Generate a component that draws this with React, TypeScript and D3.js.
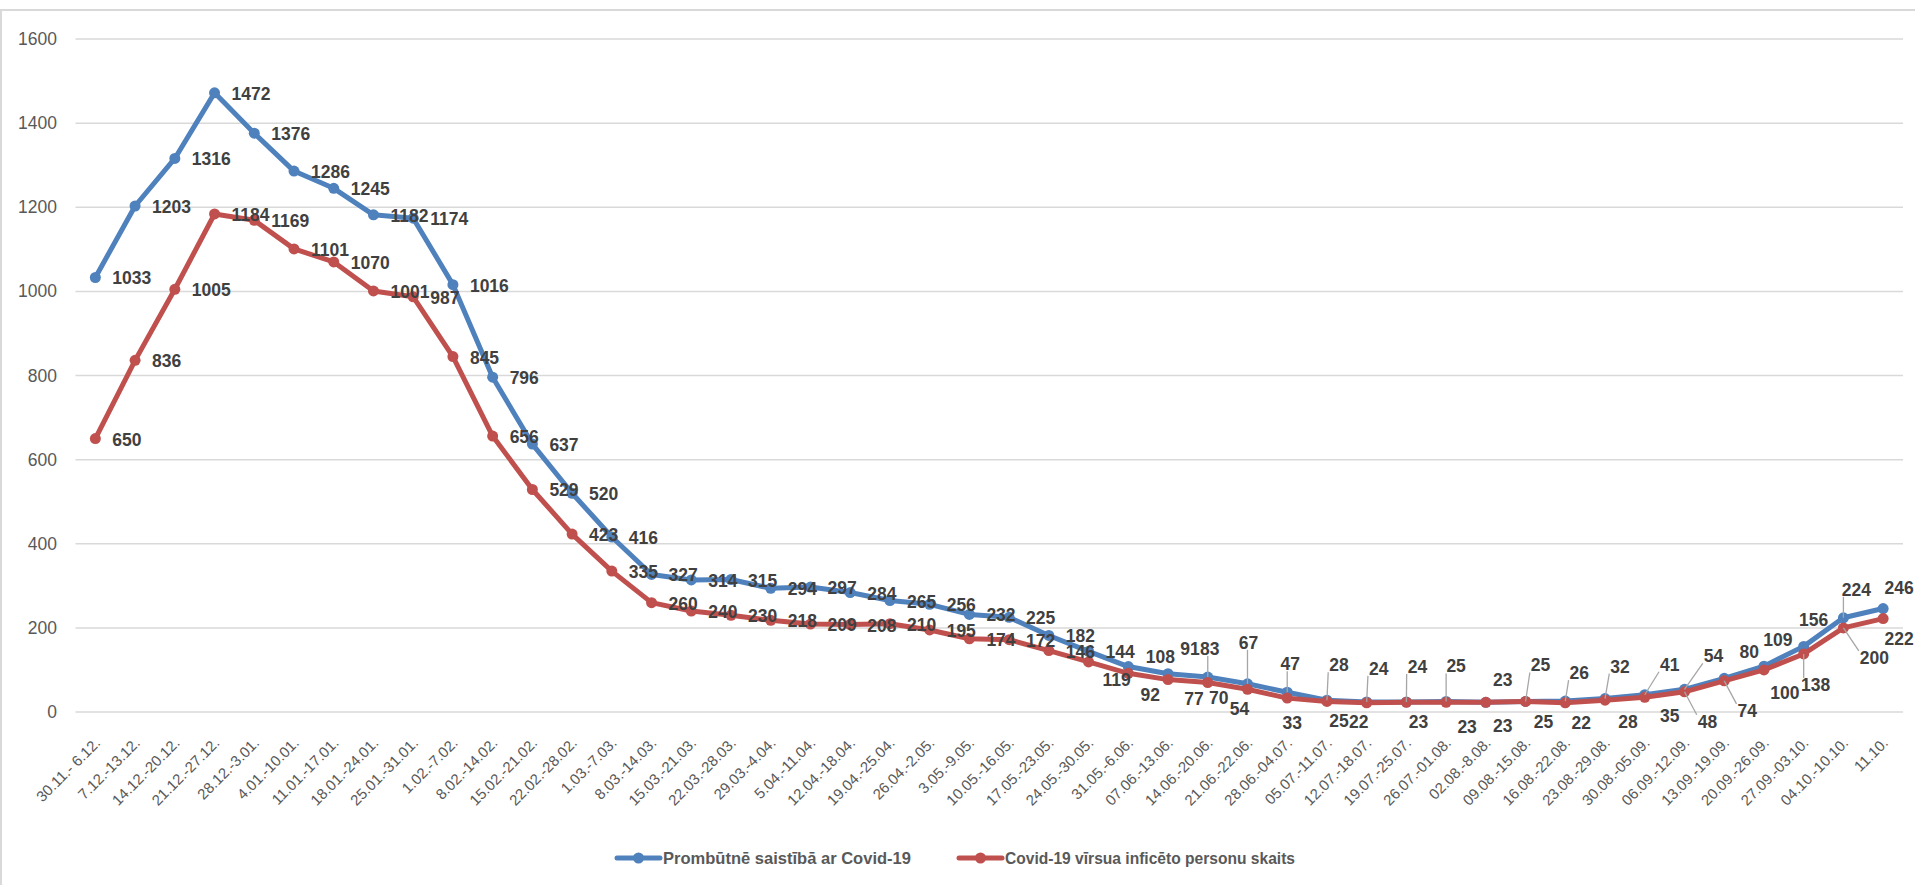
import React from 'react';
import * as d3 from 'd3';

const categories = [
  '30.11.- 6.12.', '7.12.-13.12.', '14.12.-20.12.', '21.12.-27.12.', '28.12.-3.01.',
  '4.01.-10.01.', '11.01.-17.01.', '18.01.-24.01.', '25.01.-31.01.', '1.02.-7.02.',
  '8.02.-14.02.', '15.02.-21.02.', '22.02.-28.02.', '1.03.-7.03.', '8.03.-14.03.',
  '15.03.-21.03.', '22.03.-28.03.', '29.03.-4.04.', '5.04.-11.04.', '12.04.-18.04.',
  '19.04.-25.04.', '26.04.-2.05.', '3.05.-9.05.', '10.05.-16.05.', '17.05.-23.05.',
  '24.05.-30.05.', '31.05.-6.06.', '07.06.-13.06.', '14.06.-20.06.', '21.06.-22.06.',
  '28.06.-04.07.', '05.07.-11.07.', '12.07.-18.07.', '19.07.-25.07.', '26.07.-01.08.',
  '02.08.-8.08.', '09.08.-15.08.', '16.08.-22.08.', '23.08.-29.08.', '30.08.-05.09.',
  '06.09.-12.09.', '13.09.-19.09.', '20.09.-26.09.', '27.09.-03.10.', '04.10.-10.10.',
  '11.10.',
];

const absence = [
  1033, 1203, 1316, 1472, 1376, 1286, 1245, 1182, 1174, 1016,
  796, 637, 520, 416, 327, 314, 315, 294, 297, 284,
  265, 256, 232, 225, 182, 144, 108, 91, 83, 67,
  47, 28, 24, 24, 25, 23, 25, 26, 32, 41,
  54, 80, 109, 156, 224, 246,
];

const infected = [
  650, 836, 1005, 1184, 1169, 1101, 1070, 1001, 987, 845,
  656, 529, 423, 335, 260, 240, 230, 218, 209, 208,
  210, 195, 174, 172, 146, 119, 92, 77, 70, 54,
  33, 25, 22, 23, 23, 23, 25, 22, 28, 35,
  48, 74, 100, 138, 200, 222,
];

const yTicks = [0, 200, 400, 600, 800, 1000, 1200, 1400, 1600];

const seriesNames = [
  'Prombūtnē saistībā ar Covid-19',
  'Covid-19 vīrsua inficēto personu skaits',
];

// ---- layout (label placement offsets, px, label centre relative to point) ----
const absenceLabelMoves: Record<number, [number, number]> = {
  26: [32, -10], 27: [22, -25], 28: [2, -28], 29: [1, -41], 30: [3, -28],
  31: [12, -35], 32: [12, -33], 33: [11, -35], 34: [10, -35], 35: [17, -22],
  36: [15, -36], 37: [14, -28], 38: [15, -32], 39: [25, -30], 40: [29, -33],
  41: [25, -26], 42: [14, -26], 43: [10, -26], 44: [13, -28], 45: [16, -21],
};
const infectedLabelMoves: Record<number, [number, number]> = {
  25: [28, 18], 26: [22, 22], 27: [26, 19], 28: [11, 15], 29: [-8, 20],
  30: [5, 25], 31: [12, 20], 32: [-8, 19], 33: [12, 20], 34: [21, 25],
  35: [17, 24], 36: [18, 21], 37: [16, 20], 38: [23, 22], 39: [25, 19],
  40: [23, 30], 41: [23, 30], 42: [21, 23], 43: [12, 31], 44: [31, 30],
  45: [16, 20],
};
const absenceLeaders = [28, 29, 30, 31, 32, 33, 34, 36, 37, 38, 39, 40, 44];
const infectedLeaders = [40, 41, 43, 44];

const W = 1915;
const H = 885;
const FONT = "'Liberation Sans', Arial, sans-serif";
const BLUE = '#4F81BD';
const RED = '#C0504D';
const LABEL_COLOR = '#404040';
const AXIS_COLOR = '#595959';
const GRID = '#d9d9d9';
const LABEL_SIZE = 17.5;

export default function App() {
  const x = d3.scalePoint<string>().domain(categories).range([75.5, 1903]).padding(0.5);
  const y = d3.scaleLinear().domain([0, 1600]).range([712, 39]);
  const line = d3
    .line<number>()
    .x((_, i) => x(categories[i]) as number)
    .y((d) => y(d));

  const series = [
    { name: seriesNames[0], values: absence, color: BLUE, moves: absenceLabelMoves, leaders: absenceLeaders },
    { name: seriesNames[1], values: infected, color: RED, moves: infectedLabelMoves, leaders: infectedLeaders },
  ];

  const labelEls: React.ReactNode[] = [];
  const leaderEls: React.ReactNode[] = [];
  series.forEach((s, si) => {
    s.values.forEach((v, i) => {
      const px = x(categories[i]) as number;
      const py = y(v);
      const text = String(v);
      const mv = s.moves[i];
      if (mv) {
        const cx = px + mv[0];
        const cy = py + mv[1];
        labelEls.push(
          <text key={`l${si}-${i}`} x={cx} y={cy} textAnchor="middle" dominantBaseline="central"
            fontFamily={FONT} fontWeight="bold" fontSize={LABEL_SIZE} fill={LABEL_COLOR}>{text}</text>
        );
        if (s.leaders.includes(i)) {
          const hw = (text.length * 0.556 * LABEL_SIZE) / 2 + 1;
          const hh = 7;
          const bx = Math.max(cx - hw, Math.min(px, cx + hw));
          const by = Math.max(cy - hh, Math.min(py, cy + hh));
          leaderEls.push(
            <line key={`ld${si}-${i}`} x1={px} y1={py} x2={bx} y2={by} stroke="#a6a6a6" strokeWidth={1.3} />
          );
        }
      } else {
        labelEls.push(
          <text key={`l${si}-${i}`} x={px + 17} y={py + 1} textAnchor="start" dominantBaseline="central"
            fontFamily={FONT} fontWeight="bold" fontSize={LABEL_SIZE} fill={LABEL_COLOR}>{text}</text>
        );
      }
    });
  });

  const legendY = 858;
  const legendItems = [
    { name: seriesNames[0], color: BLUE, x0: 617, len: 248 },
    { name: seriesNames[1], color: RED, x0: 959, len: 290 },
  ];

  return (
    <div style={{ position: 'absolute', left: 0, top: 0, width: W, height: H, background: '#fff' }}>
      <svg width={W} height={H} style={{ display: 'block' }}>
        <rect x={0} y={0} width={W} height={H} fill="#fff" />
        <rect x={1} y={10} width={W + 10} height={H + 10} fill="none" stroke={GRID} strokeWidth={2} />
        {yTicks.map((t) => (
          <g key={`g${t}`}>
            <line x1={75.5} x2={1903} y1={y(t)} y2={y(t)} stroke={GRID} strokeWidth={1.5} />
            <text x={57} y={y(t)} textAnchor="end" dominantBaseline="central" fontFamily={FONT}
              fontSize={17.5} fill={AXIS_COLOR}>{t}</text>
          </g>
        ))}
        {categories.map((c) => {
          const cx = (x(c) as number) + 2;
          const cy = 740;
          return (
            <text key={`x${c}`} x={cx} y={cy} transform={`rotate(-45 ${cx} ${cy})`} textAnchor="end"
              dominantBaseline="central" fontFamily={FONT} fontSize={15} fill={AXIS_COLOR}>{c}</text>
          );
        })}
        {series.map((s, si) => (
          <g key={`s${si}`}>
            <path d={line(s.values) as string} fill="none" stroke={s.color} strokeWidth={5}
              strokeLinejoin="round" strokeLinecap="round" />
            {s.values.map((v, i) => (
              <circle key={`m${si}-${i}`} cx={x(categories[i]) as number} cy={y(v)} r={5.5} fill={s.color} />
            ))}
          </g>
        ))}
        {leaderEls}
        {labelEls}
        {legendItems.map((it, k) => (
          <g key={`lg${k}`}>
            <line x1={it.x0} x2={it.x0 + 43} y1={legendY} y2={legendY} stroke={it.color} strokeWidth={5}
              strokeLinecap="round" />
            <circle cx={it.x0 + 21.5} cy={legendY} r={5.5} fill={it.color} />
            <text x={it.x0 + 46} y={legendY} dominantBaseline="central" fontFamily={FONT} fontWeight="bold"
              fontSize={16.7} fill={AXIS_COLOR} textLength={it.len} lengthAdjust="spacingAndGlyphs">{it.name}</text>
          </g>
        ))}
      </svg>
    </div>
  );
}
